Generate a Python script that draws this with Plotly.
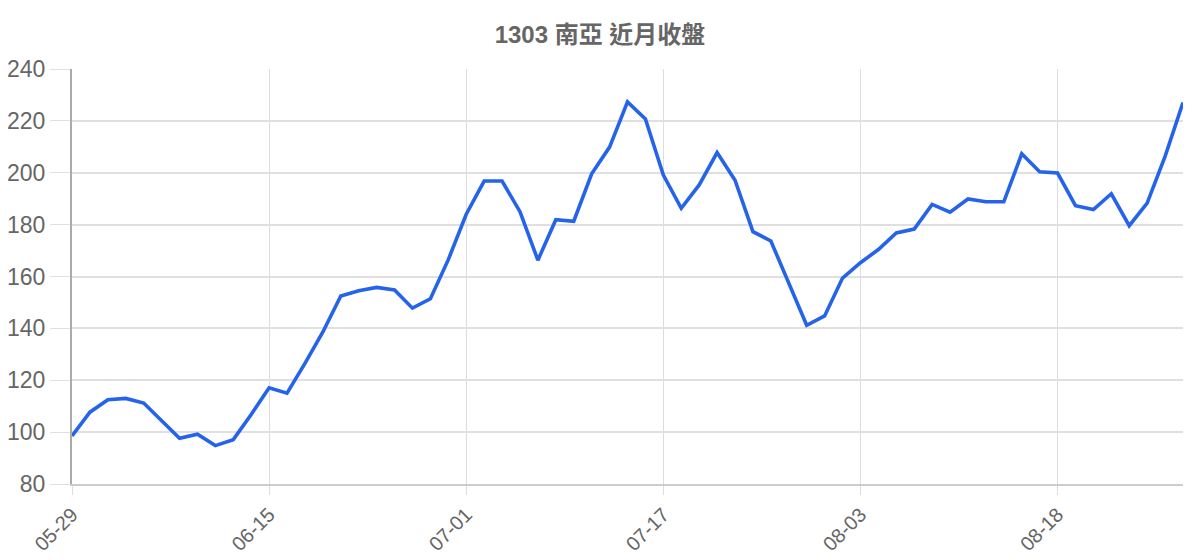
import plotly.graph_objects as go

# 1303 南亞 近月收盤 (近三個月每日收盤價)
dates = [
    "05-29", "06-01", "06-02", "06-03", "06-04", "06-05", "06-08", "06-09", "06-10", "06-11",
    "06-12", "06-15", "06-16", "06-17", "06-18", "06-22", "06-23", "06-24", "06-25", "06-26",
    "06-29", "06-30", "07-01", "07-02", "07-03", "07-06", "07-07", "07-08", "07-09", "07-10",
    "07-13", "07-14", "07-16", "07-17", "07-20", "07-21", "07-22", "07-23", "07-24", "07-27",
    "07-28", "07-29", "07-30", "07-31", "08-03", "08-04", "08-05", "08-06", "08-07", "08-10",
    "08-11", "08-12", "08-13", "08-14", "08-17", "08-18", "08-19", "08-20", "08-21", "08-24",
    "08-25", "08-26", "08-27",
]
close = [
    98.5, 107.7, 112.5, 113.0, 111.2, 104.5, 97.6, 99.2, 94.8, 97.1,
    106.8, 117.1, 115.0, 126.5, 138.6, 152.5, 154.5, 155.8, 154.8, 147.8,
    151.4, 166.5, 184.0, 196.8, 196.8, 185.0, 166.3, 181.9, 181.3, 199.6,
    209.9, 227.3, 220.7, 199.1, 186.3, 195.3, 207.8, 197.1, 177.3, 173.7,
    157.3, 141.2, 144.8, 159.4, 165.3, 170.4, 176.8, 178.3, 187.8, 184.8,
    189.9, 188.8, 188.8, 207.3, 200.4, 199.9, 187.3, 185.8, 191.9, 179.6,
    188.3, 206.3, 227.1,
]
tick_dates = ["05-29", "06-15", "07-01", "07-17", "08-03", "08-18"]
y_ticks = [80, 100, 120, 140, 160, 180, 200, 220, 240]

FONT = "Liberation Sans, Arial, Noto Sans CJK TC, sans-serif"

# the page body keeps its 8px margin, so the figure is a bit smaller than the window
W, H = 1184, 552

fig = go.Figure()
fig.add_trace(go.Scatter(
    x=dates, y=close, mode="lines",
    line=dict(color="#2563eb", width=3.6),
    hoverinfo="x+y", showlegend=False,
))

fig.update_layout(
    width=W, height=H,
    margin=dict(l=64, r=9, t=61, b=76),
    paper_bgcolor="white", plot_bgcolor="white",
    font=dict(family=FONT, color="#666666"),
    title=dict(
        text="<b>1303 南亞 近月收盤</b>",
        font=dict(family=FONT, size=24, color="#666666"),
        x=0.5, xanchor="center", y=1 - 27 / H, yanchor="middle", yref="container",
        automargin=False,
    ),
)
fig.update_xaxes(
    type="category", range=[0, len(dates) - 1],
    tickmode="array", tickvals=tick_dates, ticktext=tick_dates,
    tickangle=-45, tickfont=dict(size=20, color="#666666"),
    showgrid=True, gridcolor="#dddddd", gridwidth=1,
    ticks="outside", ticklen=9, tickcolor="#dddddd",
    showline=True, linecolor="#cccccc", linewidth=2,
    zeroline=False, automargin=False,
)
fig.update_yaxes(
    range=[80, 240], tickvals=y_ticks,
    tickfont=dict(size=23, color="#666666"),
    showgrid=True, gridcolor="#e0e0e0", gridwidth=1.5,
    ticks="outside", ticklen=20, tickcolor="#e0e0e0",
    showline=True, linecolor="#aaaaaa", linewidth=2,
    zeroline=False, automargin=False,
)

fig.write_html("out.html")
